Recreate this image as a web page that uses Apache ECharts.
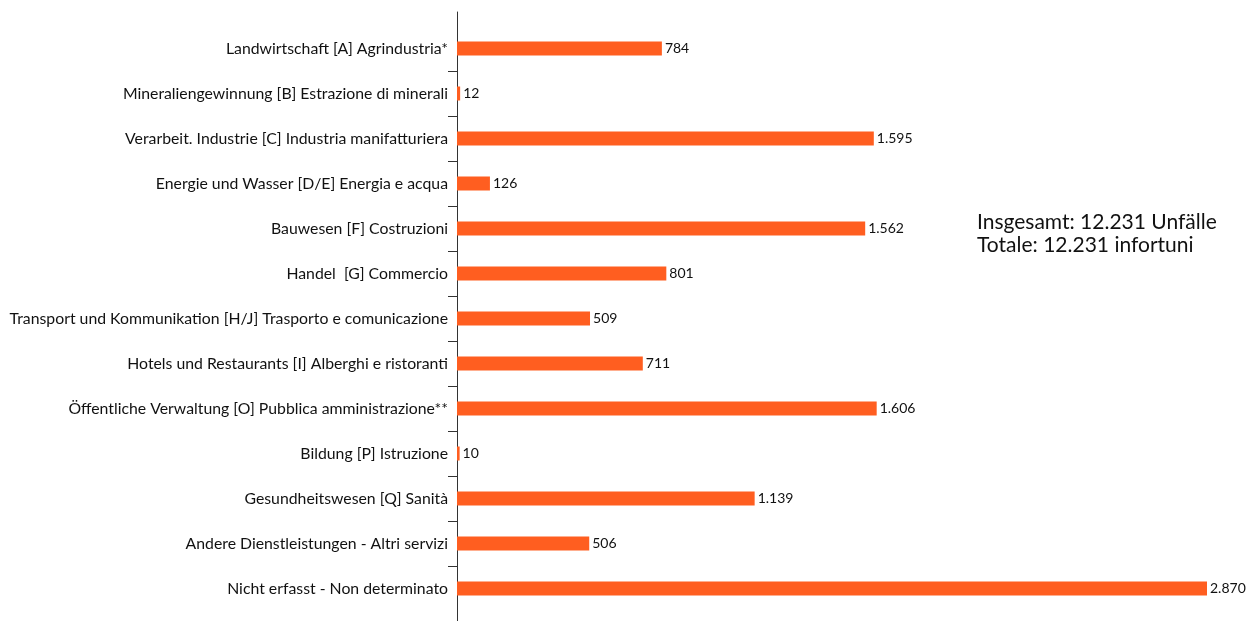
<!DOCTYPE html>
<html><head><meta charset="utf-8">
<script src="https://cdn.jsdelivr.net/npm/echarts@6/dist/echarts.min.js"></script>
<style>html,body{margin:0;padding:0;background:#fff}#c{width:1255px;height:621px}</style>
</head><body><div id="c"></div>
<script>
const categories = [
  "Landwirtschaft [A] Agrindustria*",
  "Mineraliengewinnung [B] Estrazione di minerali",
  "Verarbeit. Industrie [C] Industria manifatturiera",
  "Energie und Wasser [D/E] Energia e acqua",
  "Bauwesen [F] Costruzioni",
  "Handel  [G] Commercio",
  "Transport und Kommunikation [H/J] Trasporto e comunicazione",
  "Hotels und Restaurants [I] Alberghi e ristoranti",
  "Öffentliche Verwaltung [O] Pubblica amministrazione**",
  "Bildung [P] Istruzione",
  "Gesundheitswesen [Q] Sanità",
  "Andere Dienstleistungen - Altri servizi",
  "Nicht erfasst - Non determinato"
];
const values = [784, 12, 1595, 126, 1562, 801, 509, 711, 1606, 10, 1139, 506, 2870];
const totalLines = ["Insgesamt: 12.231 Unfälle", "Totale: 12.231 infortuni"];
const boundaryTicks = [1,2,3,4,5,6,7,8,9,10,11,12];

const FONT = "Lato";
function fmt(v){ return String(v).replace(/\B(?=(\d{3})+(?!\d))/g, "."); }

const chart = echarts.init(document.getElementById('c'));
chart.setOption({
  animation: false,
  textStyle: { fontFamily: FONT },
  grid: [
    { left: 457, right: 48, top: 26, bottom: 10 },
    { left: 457, right: 48, top: 12, bottom: 0 }
  ],
  xAxis: [
    { type: 'value', gridIndex: 0, min: 0, max: 2870, show: false },
    { type: 'value', gridIndex: 1, min: 0, max: 1, show: false }
  ],
  yAxis: [
    {
      type: 'category', gridIndex: 0, data: categories, inverse: true,
      axisLine: { show: false }, axisTick: { show: false },
      axisLabel: { color: '#111', fontSize: 15.8, fontFamily: FONT, margin: 9 }
    },
    {
      type: 'value', gridIndex: 1, inverse: true,
      min: -14/45, max: 13 + 10/45,
      splitLine: { show: false },
      axisLabel: { show: false },
      axisLine: { show: true, lineStyle: { color: '#333', width: 1 } },
      axisTick: { show: true, length: 9, customValues: boundaryTicks, lineStyle: { color: '#333', width: 1 } }
    }
  ],
  graphic: [{
    type: 'text', left: 977, top: 211,
    style: { text: totalLines.join('\n'), font: '21px ' + FONT, fill: '#111', lineHeight: 23 }
  }],
  series: [{
    type: 'bar', xAxisIndex: 0, yAxisIndex: 0, data: values, barWidth: 14,
    itemStyle: { color: '#ff5e20' },
    label: { show: true, position: 'right', distance: 3, color: '#111', fontSize: 14, fontFamily: FONT,
      formatter: p => fmt(p.value) }
  }]
});
</script></body></html>
